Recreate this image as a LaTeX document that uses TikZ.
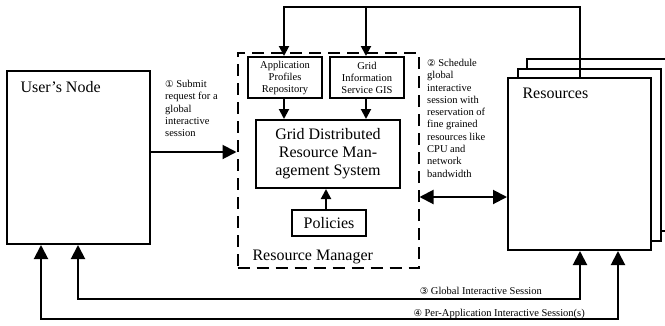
\documentclass[tikz,border=0pt]{standalone}
\usepackage{fontspec}
\setmainfont{Liberation Serif}
\newfontfamily\symfont{DejaVu Sans}
\usetikzlibrary{arrows.meta}
\newcommand\cnum[1]{{\symfont\fontsize{9.5}{9.5}\selectfont #1}}
\tikzset{
  box/.style={draw, line width=2pt, fill=white, inner sep=0pt},
  dashbox/.style={draw, line width=2pt, dash pattern=on 12pt off 7pt, inner sep=0pt},
  big/.style={font=\fontsize{16}{18}\selectfont},
  small/.style={font=\fontsize{10.5}{12}\selectfont, align=center},
  note/.style={font=\fontsize{10.5}{12.3}\selectfont, align=left, inner sep=0pt},
  conn/.style={line width=2pt},
  bigtip/.style={-{Triangle[length=14pt,width=14pt]}},
  bothtip/.style={{Triangle[length=14pt,width=14pt]}-{Triangle[length=14pt,width=14pt]}},
  smalltip/.style={-{Triangle[length=10pt,width=10pt]}},
}
\begin{document}
\begin{tikzpicture}[x=1pt,y=-1pt]
\useasboundingbox (0,0) rectangle (665,325);
\clip (0,0) rectangle (665,325);

% user side
\node[box, minimum width=143pt, minimum height=173pt] (user) at (78.5,157.5) {};
\node[big, anchor=base west] (userlbl) at (17,92.5) {User’s Node};

% resource manager
\node[dashbox, minimum width=181pt, minimum height=215.5pt] (rm) at (328,160.25) {};
\node[box, small, minimum width=74pt, minimum height=41pt] (app) at (285,77.5) {Application\\Profiles\\Repository};
\node[box, small, minimum width=74pt, minimum height=41pt] (gis) at (367,77.5) {Grid\\Information\\Service GIS};
\node[box, big, align=center, minimum width=144pt, minimum height=68pt] (gdrms) at (328,154) {Grid Distributed\\Resource Man-\\agement System};
\node[box, big, minimum width=74pt, minimum height=26pt] (pol) at (329,223) {Policies};
\node[big, anchor=base west] (rmlbl) at (249,260) {Resource Manager};

% stacked resources
\node[box, minimum width=143pt, minimum height=172pt] (res3) at (598.5,145) {};
\node[box, minimum width=143pt, minimum height=172pt] (res2) at (589,154.5) {};
\node[box, minimum width=143pt, minimum height=172pt] (res) at (579.5,164) {};
\node[big, anchor=base west] (reslbl) at (519,98) {Resources};

% feedback from the resources to the information services
\coordinate (top) at (0,7);
\draw[conn, smalltip] ([xshift=0.5pt]res.north) -- ([xshift=0.5pt]res.north |- top) -| ([xshift=-1pt]app.north);
\draw[conn, smalltip] ([xshift=-1pt]gis.north |- top) -- ([xshift=-1pt]gis.north);

% links inside the manager
\draw[conn, smalltip] ([xshift=-1pt]app.south) -- ([xshift=-1pt]app.south |- gdrms.north);
\draw[conn, smalltip] ([xshift=-1pt]gis.south) -- ([xshift=-1pt]gis.south |- gdrms.north);
\draw[conn, smalltip] ([xshift=-3pt]pol.north) -- ([xshift=-3pt]pol.north |- gdrms.south);

% request and scheduling
\draw[conn, bigtip] ([yshift=5.5pt]user.east) -- ([yshift=5.5pt]user.east -| rm.west);
\coordinate (dbl) at (0,197);
\draw[conn, bothtip] (rm.east |- dbl) -- (res.west |- dbl);
\node[note, anchor=north west] (n1) at (165,80) {\cnum{①} Submit\\request for a\\global\\interactive\\session};
\node[note, anchor=north west] (n2) at (427,59) {\cnum{②} Schedule\\global\\interactive\\session with\\reservation of\\fine grained\\resources like\\CPU and\\network\\bandwidth};

% interactive sessions
\coordinate (s3) at (0,299);
\coordinate (s4) at (0,319);
\draw[conn, bothtip] ([xshift=0.5pt]res.south) |- ([xshift=-0.5pt]user.south |- s3) -- ([xshift=-0.5pt]user.south);
\draw[conn, bothtip] ([xshift=38.5pt]res.south) |- ([xshift=-37.5pt]user.south |- s4) -- ([xshift=-37.5pt]user.south);
\node[note, anchor=base east] (l3) at (542,294) {\cnum{③} Global Interactive Session};
\node[note, anchor=base east] (l4) at (585,316) {\cnum{④} Per-Application Interactive Session(s)};
\end{tikzpicture}
\end{document}
